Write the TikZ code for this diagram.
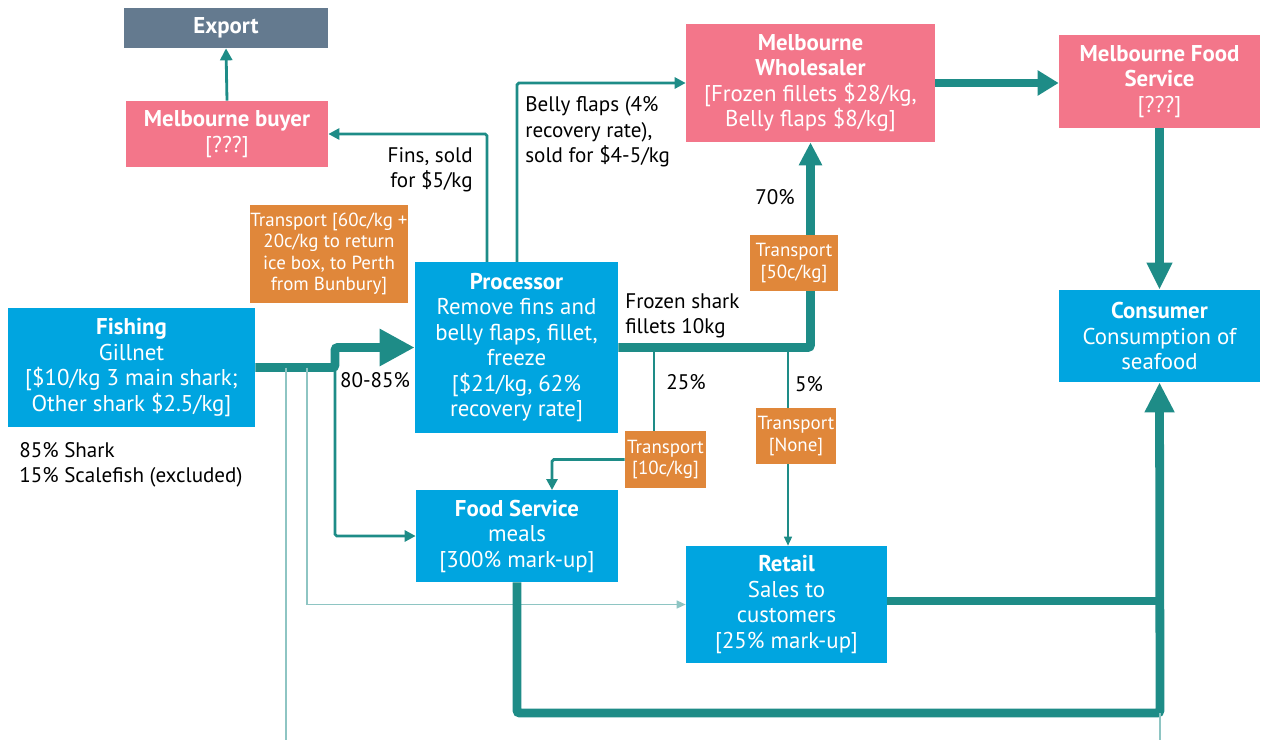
\documentclass[tikz,border=0pt]{standalone}
\usepackage{fontspec}
\setmainfont{PT Sans}
\usetikzlibrary{arrows.meta, positioning, backgrounds}
\definecolor{flowteal}{RGB}{30,140,135}
\definecolor{boxblue}{RGB}{0,165,224}
\definecolor{boxpink}{RGB}{243,118,138}
\definecolor{boxorange}{RGB}{224,135,58}
\definecolor{boxgray}{RGB}{100,122,143}

\begin{document}
\begin{tikzpicture}[x=0.02cm, y=-0.02cm,
    every node/.style={font=\fontsize{12}{14.5}\selectfont, align=center, inner sep=0pt},
    stage/.style={fill=boxblue, text=white, font=\fontsize{13}{14.5}\selectfont},
    market/.style={fill=boxpink, text=white, font=\fontsize{13}{14.5}\selectfont},
    transport/.style={fill=boxorange, text=white, font=\fontsize{10.8}{12.3}\selectfont},
    export/.style={fill=boxgray, text=white, font=\fontsize{13}{14.5}\selectfont},
    note/.style={text=black},
    bigflow/.style={draw=flowteal, line width=5pt, rounded corners=1.5pt},
    midflow/.style={draw=flowteal, line width=1.6pt, rounded corners=1pt, -{Triangle[width=0.22cm,length=0.22cm]}},
    thinflow/.style={draw=flowteal, line width=0.8pt, -{Triangle[width=0.16cm,length=0.18cm]}},
    faintflow/.style={draw=flowteal!50, line width=0.8pt, -{Triangle[width=0.16cm,length=0.18cm]}}
]
\useasboundingbox (0,0) rectangle (1261,740);

\node[export, minimum width=4.08cm, minimum height=0.8cm] (export) at (226,28) {\textbf{Export}};
\node[market, minimum width=4.04cm, minimum height=1.32cm] (buyer) at (227,134) {\textbf{Melbourne buyer}\\{[}???]};
\node[transport, minimum width=3.16cm, minimum height=1.96cm] (tperth) at (329,254) {Transport {[}60c/kg +\\20c/kg to return\\ice box, to Perth\\from Bunbury]};
\node[stage, minimum width=4.94cm, minimum height=2.38cm] (fishing) at (131.5,367.5) {\textbf{Fishing}\\Gillnet\\{[}\$10/kg 3 main shark;\\Other shark \$2.5/kg]};
\node[stage, minimum width=4.06cm, minimum height=3.42cm] (processor) at (516.5,347.5) {\textbf{Processor}\\Remove fins and\\belly flaps, fillet,\\freeze\\{[}\$21/kg, 62\%\\recovery rate]};
\node[stage, minimum width=4.04cm, minimum height=1.84cm] (foodservice) at (517,536) {\textbf{Food Service}\\meals\\{[}300\% mark-up]};
\node[stage, minimum width=4.02cm, minimum height=2.34cm] (retail) at (786.5,604.5) {\textbf{Retail}\\Sales to\\customers\\{[}25\% mark-up]};
\node[market, minimum width=4.98cm, minimum height=2.36cm] (wholesaler) at (810.5,83) {\textbf{Melbourne}\\\textbf{Wholesaler}\\{[}Frozen fillets \$28/kg,\\Belly flaps \$8/kg]};
\node[market, minimum width=4.02cm, minimum height=1.86cm] (melbfood) at (1159.5,81.5) {\textbf{Melbourne Food}\\\textbf{Service}\\{[}???]};
\node[stage, minimum width=4.02cm, minimum height=1.84cm] (consumer) at (1159.5,336) {\textbf{Consumer}\\Consumption of\\seafood};
\node[transport, minimum width=1.76cm, minimum height=1.12cm] (tfifty) at (794,263) {Transport\\{[}50c/kg]};
\node[transport, minimum width=1.62cm, minimum height=1.14cm] (tten) at (665.5,459.5) {Transport\\{[}10c/kg]};
\node[transport, minimum width=1.6cm, minimum height=1.12cm] (tnone) at (796,436) {Transport\\{[}None]};

\node[note, anchor=east, align=right] (finslbl) at (473,170) {Fins, sold\\for \$5/kg};
\node[note, anchor=west, align=left] (bellylbl) at (525,132) {Belly flaps (4\%\\recovery rate),\\sold for \$4-5/kg};
\node[note, anchor=west, align=left] (frozenlbl) at (625,316) {Frozen shark\\fillets 10kg};
\node[note] (pctseventy) at (775,197) {70\%};
\node[note] (pcteighty) at (375,380) {80-85\%};
\node[note] (pcttwentyfive) at (686,382) {25\%};
\node[note] (pctfive) at (809,384) {5\%};
\node[note, anchor=west, align=left] (catchlbl) at (19,465) {85\% Shark\\15\% Scalefish (excluded)};

\coordinate (jmid) at (335,367.5);
\coordinate (jretail) at (307,367.5);
\coordinate (jout) at (286,367.5);
\coordinate (jbottom) at (286,740);
\coordinate (pfins) at (487,262);
\coordinate (pbelly) at (517,262);
\coordinate (splitten) at (654,347.5);
\coordinate (splitfive) at (788,347.5);
\coordinate (foodin) at (552,490);
\coordinate (retailout) at (887,601);
\coordinate (sink) at (1160,713);
\coordinate (sinkbottom) at (1160,740);

\begin{scope}[on background layer]
\draw[bigflow, -{Triangle[width=0.7cm,length=0.7cm]}] (fishing.east) -- (jmid) |- (processor.west);
\draw[midflow] (jmid) |- (foodservice.west);
\draw[faintflow] (jretail) |- (retail.west);
\draw[faintflow, -] (jout) -- (jbottom);
\draw[midflow, -{Triangle[width=0.24cm,length=0.24cm]}] (buyer.north) -- (export.south);
\draw[midflow] (pfins) |- (buyer.east);
\draw[midflow] (pbelly) |- (wholesaler.west);
\draw[bigflow, -{Triangle[width=0.44cm,length=0.46cm]}] (processor.east) -| (wholesaler.south);
\draw[midflow, -] (splitten) -- (splitten |- tten.north);
\draw[midflow] (tten.west) -| (foodin);
\draw[thinflow, -] (splitfive) -- (splitfive |- tnone.north);
\draw[thinflow] (splitfive |- tnone.south) -- (splitfive |- retail.north);
\draw[bigflow, -{Triangle[width=0.48cm,length=0.42cm]}] (wholesaler.east) -- (wholesaler.east -| melbfood.west);
\draw[bigflow, -{Triangle[width=0.48cm,length=0.54cm]}] (melbfood.south) -- (consumer.north);
\draw[bigflow] (retailout) -- (retailout -| consumer.south);
\draw[bigflow, -{Triangle[width=0.56cm,length=0.6cm]}] (foodservice.south) |- (sink) -- (consumer.south);
\draw[faintflow, -] (sink) -- (sinkbottom);
\end{scope}

\end{tikzpicture}
\end{document}
